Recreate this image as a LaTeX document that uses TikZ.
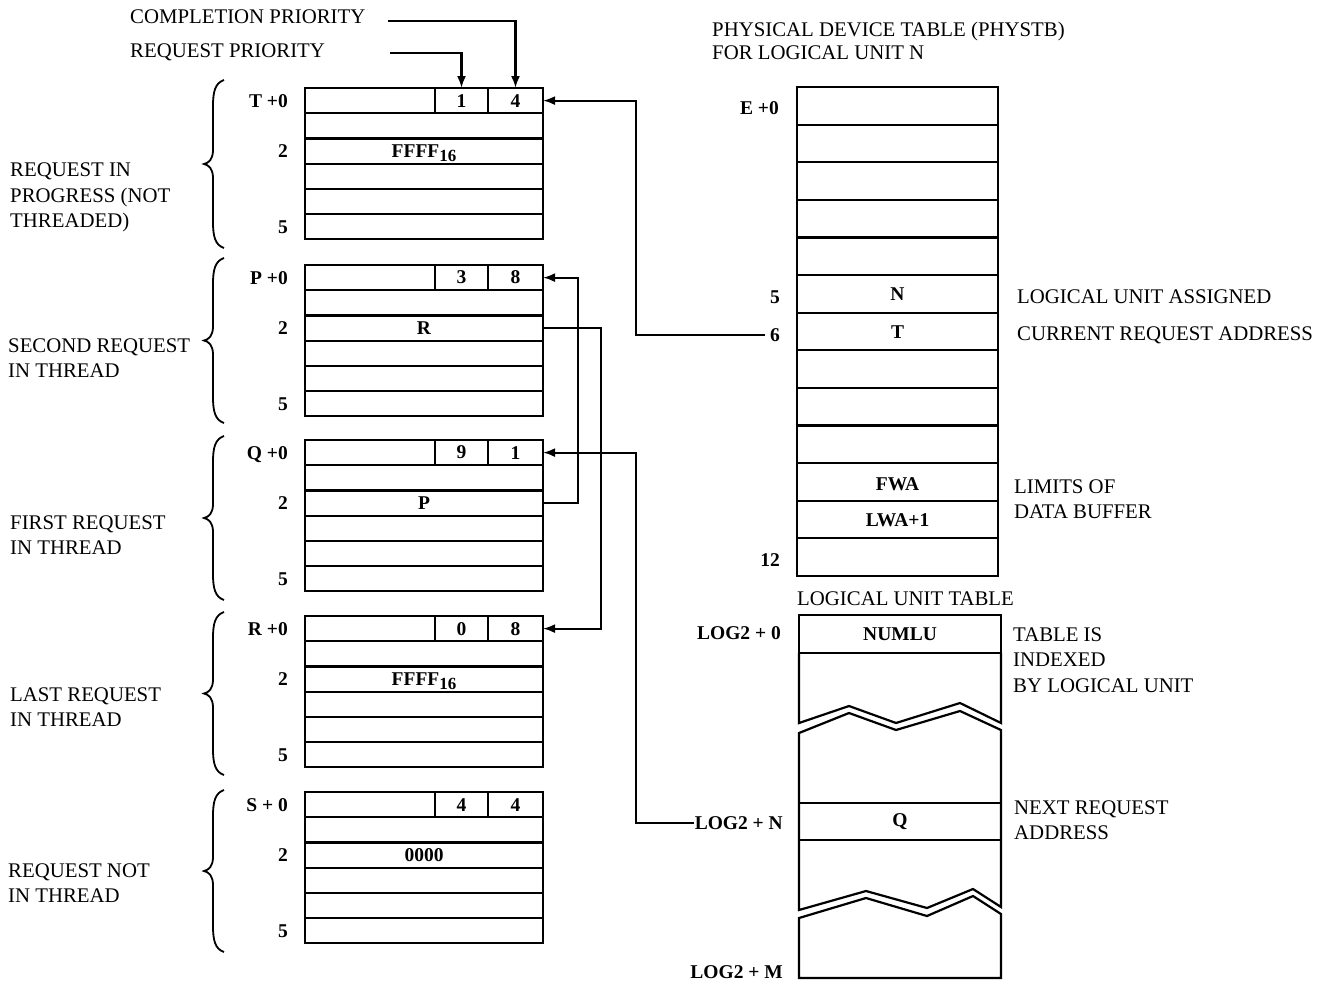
\documentclass[tikz,border=0pt]{standalone}
\usepackage{fontspec}
\setmainfont{Liberation Serif}
\usetikzlibrary{arrows.meta}
\begin{document}
\begin{tikzpicture}[x=1pt,y=-1pt,line join=miter,
  ln/.style={line width=2.2pt},
  txt/.style={inner sep=0pt,text height=13.8pt,text depth=0pt,font=\fontsize{20.8}{24}\selectfont},
  lbl/.style={inner sep=0pt,text height=13.4pt,text depth=0pt,font=\bfseries\fontsize{19.5}{24}\selectfont},
  rcell/.style={draw,line width=2.2pt,inner sep=0pt,outer sep=0pt,font=\bfseries\fontsize{19.5}{24}\selectfont},
  conn/.style={line width=2.2pt,-{Latex[length=12pt,width=9pt]}},
  brc/.style={line width=1.8pt}]
\useasboundingbox (0,0) rectangle (1324,983);

\newcommand\mybrace[2]{%
  \pgfmathsetmacro\brt{#1}\pgfmathsetmacro\brb{#2}\pgfmathsetmacro\brm{(#1+#2)/2}%
  \draw[brc] (224,\brt) .. controls (215,\brt+3) and (213,\brt+12) .. (213,\brt+26)
    -- (213,\brm-14) .. controls (213,\brm-5) and (209,\brm-1) .. (204,\brm)
    .. controls (209,\brm+1) and (213,\brm+5) .. (213,\brm+14)
    -- (213,\brb-26) .. controls (213,\brb-12) and (215,\brb-3) .. (224,\brb);}

\newcommand\reqblock[6]{% name, top, label, a, b, row2 text
  \foreach \k in {0,...,5}{%
    \node[rcell,minimum width=238pt,minimum height=25.2pt] (#1-\k) at (424,{#2+25.2*(\k+0.5)}) {};}
  \node[rcell,minimum width=53pt,minimum height=25.2pt] (#1-a) at (461.5,{#2+12.6}) {#4};
  \node[rcell,minimum width=55pt,minimum height=25.2pt] (#1-b) at (515.5,{#2+12.6}) {#5};
  \node[lbl] (#1-t) at (424,{#2+25.2*2.5}) {#6};
  \node[lbl,anchor=east] (#1-l0) at (288,{#2+12.6}) {#3};
  \node[lbl,anchor=east] (#1-l2) at (288,{#2+25.2*2.5}) {2};
  \node[lbl,anchor=east] (#1-l5) at (288,{#2+25.2*5.5}) {5};}

% priority labels
\node[txt,anchor=west] (cp) at (130,17) {COMPLETION PRIORITY};
\node[txt,anchor=west] (rp) at (130,51) {REQUEST PRIORITY};

% request blocks
\reqblock{T}{88}{T +0}{1}{4}{FFFF\raisebox{-4pt}{\fontsize{17}{17}\selectfont 16}}
\reqblock{P}{265}{P +0}{3}{8}{R}
\reqblock{Q}{440}{Q +0}{9}{1}{P}
\reqblock{R}{616}{R +0}{0}{8}{FFFF\raisebox{-4pt}{\fontsize{17}{17}\selectfont 16}}
\reqblock{S}{792}{S + 0}{4}{4}{0000}

% braces
\mybrace{80}{248}
\mybrace{258}{423}
\mybrace{436}{600}
\mybrace{612}{775}
\mybrace{790}{952}

% left descriptions
\node[txt,anchor=west] (dT1) at (10,170) {REQUEST IN};
\node[txt,anchor=west] (dT2) at (10,196) {PROGRESS (NOT};
\node[txt,anchor=west] (dT3) at (10,221) {THREADED)};
\node[txt,anchor=west] (dP1) at (8,346) {SECOND REQUEST};
\node[txt,anchor=west] (dP2) at (8,371) {IN THREAD};
\node[txt,anchor=west] (dQ1) at (10,523) {FIRST REQUEST};
\node[txt,anchor=west] (dQ2) at (10,548) {IN THREAD};
\node[txt,anchor=west] (dR1) at (10,695) {LAST REQUEST};
\node[txt,anchor=west] (dR2) at (10,720) {IN THREAD};
\node[txt,anchor=west] (dS1) at (8,871) {REQUEST NOT};
\node[txt,anchor=west] (dS2) at (8,896) {IN THREAD};

% physical device table
\node[txt,anchor=west] (ph1) at (712,30) {PHYSICAL DEVICE TABLE (PHYSTB)};
\node[txt,anchor=west] (ph2) at (712,53) {FOR LOGICAL UNIT N};
\foreach \k in {0,...,12}{%
  \node[rcell,minimum width=201pt,minimum height=37.6pt] (E-\k) at (897.5,{87+37.6*(\k+0.5)}) {};}
\node[lbl] (E5t) at (E-5) {N};
\node[lbl] (E6t) at (E-6) {T};
\node[lbl] (E10t) at ([yshift=-2pt]E-10.center) {FWA};
\node[lbl] (E11t) at (E-11) {LWA+1};
\node[lbl,anchor=east] (E0l) at (779,108) {E +0};
\node[lbl,anchor=east] (E5l) at (780,297) {5};
\node[lbl,anchor=east] (E6l) at (780,335) {6};
\node[lbl,anchor=east] (E12l) at (780,560) {12};
\node[txt,anchor=west] (n5) at (1017,297) {LOGICAL UNIT ASSIGNED};
\node[txt,anchor=west] (n6) at (1017,334) {CURRENT REQUEST ADDRESS};
\node[txt,anchor=west] (n10) at (1014,487) {LIMITS OF};
\node[txt,anchor=west] (n11) at (1014,512) {DATA BUFFER};

% logical unit table
\node[txt,anchor=west] (lut) at (797,599) {LOGICAL UNIT TABLE};
\node[rcell,minimum width=202pt,minimum height=38pt] (L-0) at (900,634) {NUMLU};
\draw[ln] (L-0.south west) -- (799,723) -- (849,706) -- (896,723) -- (960,703) -- (1001,723) -- (L-0.south east);
\draw[ln] (799,733) -- (849,713) -- (896,730) -- (960,711) -- (1001,730) -- (1001,907)
  -- (973,889) -- (927,908) -- (866,891) -- (799,910) -- cycle;
\node[rcell,minimum width=202pt,minimum height=37pt] (L-N) at (900,821.5) {Q};
\draw[ln] (799,918) -- (866,898) -- (927,916) -- (973,896) -- (1001,914) -- (1001,978) -- (799,978) -- cycle;
\node[lbl,anchor=east] (L0l) at (781,633) {LOG2 + 0};
\node[lbl,anchor=east] (LNl) at (783,823) {LOG2 + N};
\node[lbl,anchor=east] (LMl) at (783,972) {LOG2 + M};
\node[txt,anchor=west] (t1) at (1013,635) {TABLE IS};
\node[txt,anchor=west] (t2) at (1013,660) {INDEXED};
\node[txt,anchor=west] (t3) at (1013,686) {BY LOGICAL UNIT};
\node[txt,anchor=west] (q1) at (1014,808) {NEXT REQUEST};
\node[txt,anchor=west] (q2) at (1014,833) {ADDRESS};

% connectors
\coordinate (cpstart) at (388,21);
\coordinate (rpstart) at (390,53);
\coordinate (bus1) at (636,0);
\coordinate (bus2) at (578,0);
\coordinate (bus3) at (601,0);
\draw[conn] (cpstart) -| (T-b.north);
\draw[conn] (rpstart) -| (T-a.north);
\draw[conn,shorten <=5pt] (E6l.west) -- (E6l.west -| bus1) |- (T-b.east);
\draw[conn] (Q-2.east) -- (Q-2.east -| bus2) |- (P-b.east);
\draw[conn] (P-2.east) -- (P-2.east -| bus3) |- (R-b.east);
\draw[conn,shorten <=1pt] (LNl.west) -- (LNl.west -| bus1) |- (Q-b.east);
\end{tikzpicture}
\end{document}
